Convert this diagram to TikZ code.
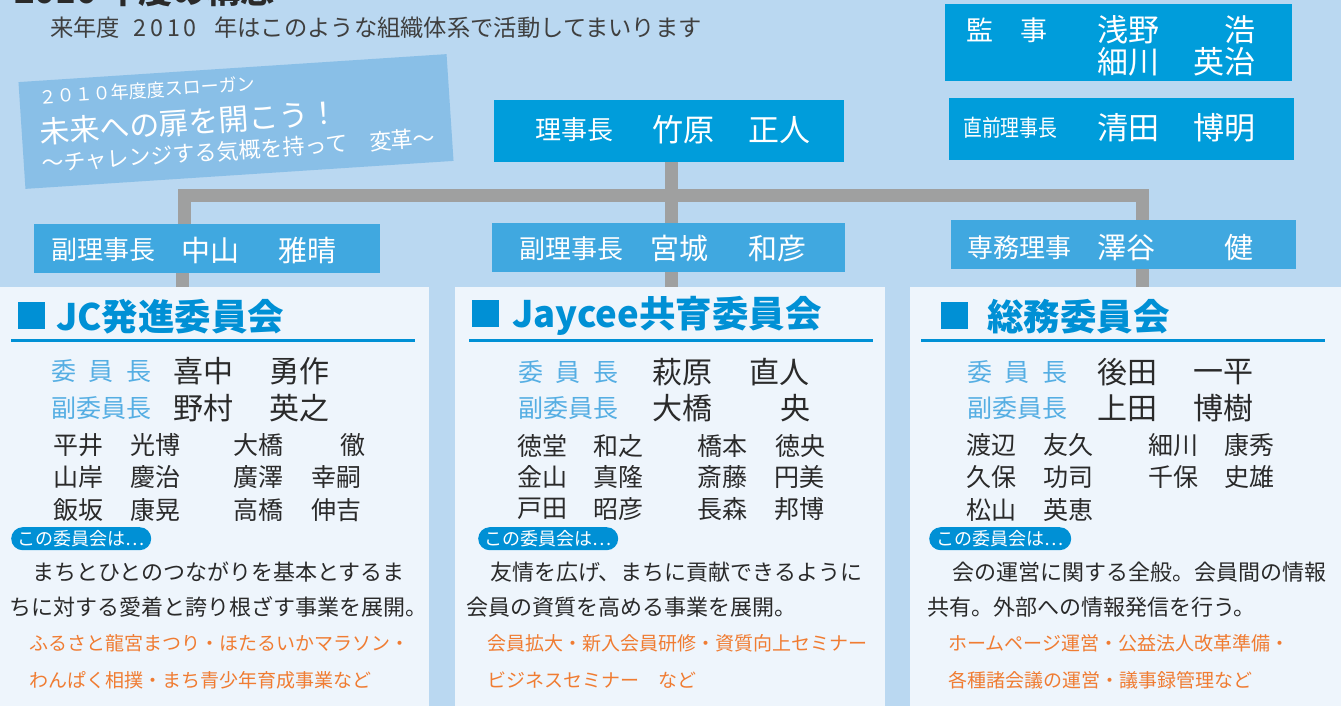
\documentclass[tikz,border=0pt]{standalone}
\usepackage{fontspec}
\usepackage{graphicx}
\newfontfamily\jp{Noto Sans CJK JP}
\setmainfont{Noto Sans CJK JP}
\definecolor{bgblue}{HTML}{BAD8F1}
\definecolor{panelc}{HTML}{EEF5FC}
\definecolor{topbox}{HTML}{009DDB}
\definecolor{vpbox}{HTML}{40A8E0}
\definecolor{slogan}{HTML}{89BFE7}
\definecolor{linkgray}{HTML}{9FA0A0}
\definecolor{headblue}{HTML}{0090D5}
\definecolor{rolec}{HTML}{55AEE3}
\definecolor{orangec}{HTML}{F07C32}
\definecolor{darkt}{HTML}{2A2A2A}
\newcommand\fsz[1]{\fontsize{#1}{#1}\selectfont}
\tikzset{
  txt/.style={inner sep=0pt, anchor=west, text=darkt},
  wtxt/.style={inner sep=0pt, anchor=west, text=white},
  box/.style={inner sep=0pt, anchor=north west},
  link/.style={draw=linkgray, line width=13pt, line cap=butt, line join=miter},
  head/.style={inner sep=0pt, anchor=west, text=headblue, font=\fsz{36.5}\bfseries},
  role/.style={inner sep=0pt, anchor=west, text=rolec, font=\fsz{25}},
  rname/.style={inner sep=0pt, anchor=west, text=darkt, font=\fsz{30}},
  mem/.style={inner sep=0pt, anchor=west, text=darkt, font=\fsz{25}},
  desc/.style={inner sep=0pt, anchor=west, text=darkt, font=\fsz{22}},
  orng/.style={inner sep=0pt, anchor=west, text=orangec, font=\fsz{19}},
  pill/.style={inner sep=0pt, anchor=north west, fill=headblue, rounded corners=11.5pt, minimum height=23pt, text=white, font=\fsz{18}},
  sq/.style={inner sep=0pt, anchor=north west, fill=headblue, minimum width=27pt, minimum height=27pt},
}
\begin{document}
\begin{tikzpicture}[x=1pt,y=-1pt]
\useasboundingbox (0,0) rectangle (1341,706);
\fill[bgblue] (0,0) rectangle (1341,706);

% title (cut off at the top edge, as in the reference) and subtitle
\node[inner sep=0pt, anchor=south west, text=darkt, font=\fsz{34}\bfseries] (title) at (14,7) {2010 年度の構想};
\node[txt, font=\fsz{23.3}, text=darkt!90] (sub1) at (50,28) {来年度};
\node[txt, font=\fsz{23.3}, text=darkt!90] (sub2) at (133,28) {2\hspace{4pt}0\hspace{4pt}1\hspace{4pt}0};
\node[txt, font=\fsz{23.3}, text=darkt!90] (sub3) at (214,28) {年はこのような組織体系で活動してまいります};

% slogan
\begin{scope}[shift={(236,121.5)}, rotate=3.74, transform shape]
  \node[fill=slogan, minimum width=429pt, minimum height=107pt, inner sep=0pt] (slog) at (0,0) {};
  \node[wtxt, font=\fsz{18}] (s1) at (-195,-37) {２０１０年度度スローガン};
  \node[wtxt, font=\fsz{30}] (s2) at (-197,-2) {未来への扉を開こう！};
  \node[wtxt, font=\fsz{22}] (s3) at (-197,29) {～チャレンジする気概を持って　変革～};
\end{scope}

% panels
\node[box, fill=panelc, minimum width=429pt, minimum height=419pt] (p1) at (0,287) {};
\node[box, fill=panelc, minimum width=430pt, minimum height=419pt] (p2) at (455,287) {};
\node[box, fill=panelc, minimum width=431pt, minimum height=419pt] (p3) at (910,287) {};

% top boxes
\node[box, fill=topbox, minimum width=350pt, minimum height=62pt] (rj) at (494,100) {};
\node[box, fill=topbox, minimum width=347pt, minimum height=77pt] (kanji) at (945,4) {};
\node[box, fill=topbox, minimum width=345pt, minimum height=62pt] (zen) at (949,98) {};
\node[box, fill=vpbox, minimum width=346pt, minimum height=49pt] (v1) at (34,224) {};
\node[box, fill=vpbox, minimum width=353pt, minimum height=49pt] (v2) at (492,223) {};
\node[box, fill=vpbox, minimum width=345pt, minimum height=49pt] (v3) at (951,220) {};

% connectors
\coordinate (barL) at (184,195);
\coordinate (barR) at (1142.5,195);
\coordinate (barM) at (671,195);
\coordinate (stubL) at (182,280);
\draw[link] (barL |- v1.north) -- (barL) -- (barR) -- (barR |- v3.north);
\draw[link] (barM |- rj.south) -- (barM |- v2.north);
\draw[link] (stubL |- v1.south) -- (stubL |- p1.north);
\draw[link] (barM |- v2.south) -- (barM |- p2.north);
\draw[link] (barR |- v3.south) -- (barR |- p3.north);

% top box texts
\node[wtxt, font=\fsz{26}] (rjl) at (535,130) {理事長};
\node[wtxt, font=\fsz{31}] (rjn1) at (652,130) {竹原};
\node[wtxt, font=\fsz{31}] (rjn2) at (748,130) {正人};

\node[wtxt, font=\fsz{27}] (kl) at (966,30) {監　事};
\node[wtxt, font=\fsz{31}] (k1a) at (1097,30) {浅野};
\node[wtxt, font=\fsz{31}] (k1b) at (1224,30) {浩};
\node[wtxt, font=\fsz{31}] (k2a) at (1097,62) {細川};
\node[wtxt, font=\fsz{31}] (k2b) at (1193,62) {英治};

\node[wtxt, font=\fsz{23}] (zl) at (963,128) {\scalebox{0.82}[1]{直前理事長}};
\node[wtxt, font=\fsz{31}] (z1) at (1097,128) {清田};
\node[wtxt, font=\fsz{31}] (z2) at (1193,128) {博明};

\node[wtxt, font=\fsz{26}] (v1l) at (51,250) {副理事長};
\node[wtxt, font=\fsz{29}] (v1a) at (181,250) {中山};
\node[wtxt, font=\fsz{29}] (v1b) at (278,250) {雅晴};
\node[wtxt, font=\fsz{26}] (v2l) at (519,249) {副理事長};
\node[wtxt, font=\fsz{29}] (v2a) at (650,249) {宮城};
\node[wtxt, font=\fsz{29}] (v2b) at (748,249) {和彦};
\node[wtxt, font=\fsz{26}] (v3l) at (967,248) {専務理事};
\node[wtxt, font=\fsz{29}] (v3a) at (1097,248) {澤谷};
\node[wtxt, font=\fsz{29}] (v3b) at (1224,248) {健};

% ---------- panel 1 ----------
\node[sq] (h1s) at (18,302) {};
\node[head] (h1) at (56,317) {JC発進委員会};
\draw[headblue, line width=3pt] (11,340) -- (415,340);
\node[role] (r1a) at (51,371) {委\hspace{12.5pt}員\hspace{12.5pt}長};
\node[rname] (n1a) at (173,371) {喜中};
\node[rname] (n1b) at (269,371) {勇作};
\node[role] (r1b) at (51,408) {副委員長};
\node[rname] (n1c) at (173,408) {野村};
\node[rname] (n1d) at (269,408) {英之};
\node[mem] (m11) at (53,445) {平井}; \node[mem] (m12) at (130,445) {光博};
\node[mem] (m13) at (233,445) {大橋}; \node[mem] (m14) at (340,445) {徹};
\node[mem] (m15) at (53,477) {山岸}; \node[mem] (m16) at (130,477) {慶治};
\node[mem] (m17) at (233,477) {廣澤}; \node[mem] (m18) at (311,477) {幸嗣};
\node[mem] (m19) at (53,510) {飯坂}; \node[mem] (m1a) at (130,510) {康晃};
\node[mem] (m1b) at (233,510) {高橋}; \node[mem] (m1c) at (311,510) {伸吉};
\node[pill, minimum width=140pt] (pl1) at (11,527) {この委員会は…};
\node[desc] (d1a) at (32,572) {まちとひとのつながりを基本とするま};
\node[desc] (d1b) at (9,607) {ちに対する愛着と誇り根ざす事業を展開。};
\node[orng] (o1a) at (29,643) {ふるさと龍宮まつり・ほたるいかマラソン・};
\node[orng] (o1b) at (29,680) {わんぱく相撲・まち青少年育成事業など};

% ---------- panel 2 ----------
\node[sq] (h2s) at (472,300) {};
\node[head] (h2) at (512,316) {Jaycee共育委員会};
\draw[headblue, line width=3pt] (469,340) -- (873,340);
\node[role] (r2a) at (518,372) {委\hspace{12.5pt}員\hspace{12.5pt}長};
\node[rname] (n2a) at (652,372) {萩原};
\node[rname] (n2b) at (749,372) {直人};
\node[role] (r2b) at (518,408) {副委員長};
\node[rname] (n2c) at (652,408) {大橋};
\node[rname] (n2d) at (780,408) {央};
\node[mem] (m21) at (517,446) {徳堂}; \node[mem] (m22) at (593,446) {和之};
\node[mem] (m23) at (697,446) {橋本}; \node[mem] (m24) at (775,446) {徳央};
\node[mem] (m25) at (517,477) {金山}; \node[mem] (m26) at (593,477) {真隆};
\node[mem] (m27) at (697,477) {斎藤}; \node[mem] (m28) at (774,477) {円美};
\node[mem] (m29) at (517,509) {戸田}; \node[mem] (m2a) at (593,509) {昭彦};
\node[mem] (m2b) at (697,509) {長森}; \node[mem] (m2c) at (774,509) {邦博};
\node[pill, minimum width=140pt] (pl2) at (478,527) {この委員会は…};
\node[desc] (d2a) at (490,572) {友情を広げ、まちに貢献できるように};
\node[desc] (d2b) at (466,607) {会員の資質を高める事業を展開。};
\node[orng] (o2a) at (487,643) {会員拡大・新入会員研修・資質向上セミナー};
\node[orng] (o2b) at (487,680) {ビジネスセミナー　など};

% ---------- panel 3 ----------
\node[sq] (h3s) at (941,302) {};
\node[head] (h3) at (987,317) {総務委員会};
\draw[headblue, line width=3pt] (921,340) -- (1325,340);
\node[role] (r3a) at (967,372) {委\hspace{12.5pt}員\hspace{12.5pt}長};
\node[rname] (n3a) at (1097,372) {後田};
\node[rname] (n3b) at (1193,372) {一平};
\node[role] (r3b) at (967,408) {副委員長};
\node[rname] (n3c) at (1097,408) {上田};
\node[rname] (n3d) at (1193,408) {博樹};
\node[mem] (m31) at (966,445) {渡辺}; \node[mem] (m32) at (1043,445) {友久};
\node[mem] (m33) at (1148,445) {細川}; \node[mem] (m34) at (1224,445) {康秀};
\node[mem] (m35) at (966,477) {久保}; \node[mem] (m36) at (1043,477) {功司};
\node[mem] (m37) at (1148,477) {千保}; \node[mem] (m38) at (1224,477) {史雄};
\node[mem] (m39) at (966,510) {松山}; \node[mem] (m3a) at (1043,510) {英恵};
\node[pill, minimum width=142pt] (pl3) at (929,527) {この委員会は…};
\node[desc] (d3a) at (952,572) {会の運営に関する全般。会員間の情報};
\node[desc] (d3b) at (927,607) {共有。外部への情報発信を行う。};
\node[orng] (o3a) at (948,643) {ホームページ運営・公益法人改革準備・};
\node[orng] (o3b) at (948,680) {各種諸会議の運営・議事録管理など};
\end{tikzpicture}
\end{document}
